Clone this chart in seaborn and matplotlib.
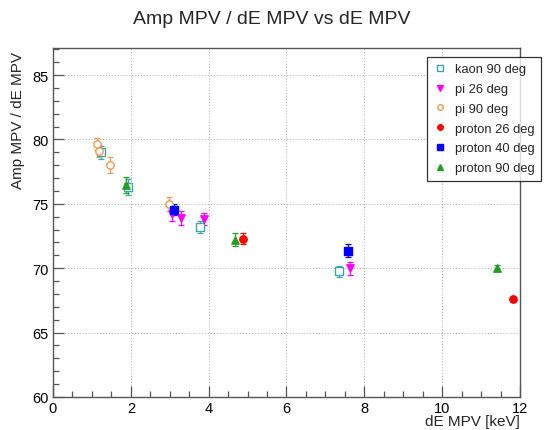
import matplotlib
matplotlib.use("Agg")
import matplotlib.pyplot as plt
import seaborn as sns
import pandas as pd
from matplotlib.ticker import MultipleLocator

# Data (dE MPV [keV], Amp MPV / dE MPV, error)
kaon90_x = [1.23, 1.94, 3.78, 7.36]
kaon90_y = [79.0, 76.3, 73.2, 69.75]
kaon90_err = [0.5, 0.6, 0.45, 0.45]

pi26_x = [3.07, 3.30, 3.87, 7.63]
pi26_y = [74.2, 73.9, 73.8, 70.0]
pi26_err = [0.5, 0.55, 0.45, 0.5]

pi90_x = [1.14, 1.18, 1.47, 2.97]
pi90_y = [79.65, 79.1, 78.0, 75.0]
pi90_err = [0.5, 0.5, 0.6, 0.55]

proton26_x = [4.87, 11.81]
proton26_y = [72.3, 67.6]
proton26_err = [0.45, 0.15]

proton40_x = [3.12, 7.59]
proton40_y = [74.55, 71.35]
proton40_err = [0.45, 0.5]

proton90_x = [1.87, 4.67, 11.4]
proton90_y = [76.45, 72.2, 70.0]
proton90_err = [0.6, 0.5, 0.25]

labels = ['kaon 90 deg', 'pi 26 deg', 'pi 90 deg',
          'proton 26 deg', 'proton 40 deg', 'proton 90 deg']

series = [
    (kaon90_x, kaon90_y, kaon90_err, '#3aa8a8', 's', False),
    (pi26_x, pi26_y, pi26_err, '#ff00ff', 'v', True),
    (pi90_x, pi90_y, pi90_err, '#ee9a55', 'o', False),
    (proton26_x, proton26_y, proton26_err, '#ff0000', 'o', True),
    (proton40_x, proton40_y, proton40_err, '#0000ff', 's', True),
    (proton90_x, proton90_y, proton90_err, '#22a022', '^', True),
]

sns.set_style("white")
plt.rcParams['font.family'] = ['Liberation Sans', 'DejaVu Sans']

fig = plt.figure(figsize=(5.44, 4.31), dpi=100)
ax = fig.add_axes([0.0974, 0.0766, 0.8585, 0.8097])

handles = []
for (xs, ys, errs, col, mk, filled), lab in zip(series, labels):
    df = pd.DataFrame({'x': xs, 'y': ys})
    ax.errorbar(xs, ys, yerr=errs, fmt='none', ecolor=col, elinewidth=0.9,
                capsize=2, capthick=0.9, zorder=2)
    sns.scatterplot(data=df, x='x', y='y', ax=ax, marker=mk, s=28,
                    facecolor=col if filled else 'white', edgecolor=col,
                    linewidth=1.0, zorder=3, legend=False)
    h, = ax.plot([], [], linestyle='none', marker=mk, markersize=4,
                 markerfacecolor=col if filled else 'white',
                 markeredgecolor=col, markeredgewidth=1.0)
    handles.append(h)

ax.set_xlim(0, 12)
ax.set_ylim(60, 87.1)
ax.xaxis.set_major_locator(MultipleLocator(2))
ax.xaxis.set_minor_locator(MultipleLocator(0.5))
ax.yaxis.set_major_locator(MultipleLocator(5))
ax.yaxis.set_minor_locator(MultipleLocator(1))
ax.tick_params(which='both', direction='in', colors='#555555', labelcolor='black',
               labelsize=10.5, bottom=True, left=True, top=False, right=False)
ax.tick_params(which='major', length=8, width=0.9, pad=3)
ax.tick_params(which='minor', length=4, width=0.9)
ax.grid(True, which='major', linestyle=(0, (1, 2)), color='#aaaaaa', linewidth=0.7)
for sp in ax.spines.values():
    sp.set_color('#555555')
    sp.set_linewidth(1.0)

ax.set_xlabel('dE MPV [keV]', fontsize=11, ha='right', va='top')
ax.xaxis.set_label_coords(1.0, -0.049)
ax.set_ylabel('Amp MPV / dE MPV', fontsize=11, ha='right', va='center')
ax.yaxis.set_label_coords(-0.075, 0.99)

fig.text(0.5, 0.955, 'Amp MPV / dE MPV vs dE MPV', ha='center', va='center', fontsize=14)

leg = ax.legend(handles, labels, loc='upper left', bbox_to_anchor=(0.80, 0.975),
                frameon=True, fancybox=False, fontsize=9.3, handlelength=1.0,
                handletextpad=0.7, labelspacing=0.6, borderpad=0.5,
                borderaxespad=0)
leg.get_frame().set_edgecolor('black')
leg.get_frame().set_linewidth(0.9)

fig.savefig('out.png', dpi=100)
